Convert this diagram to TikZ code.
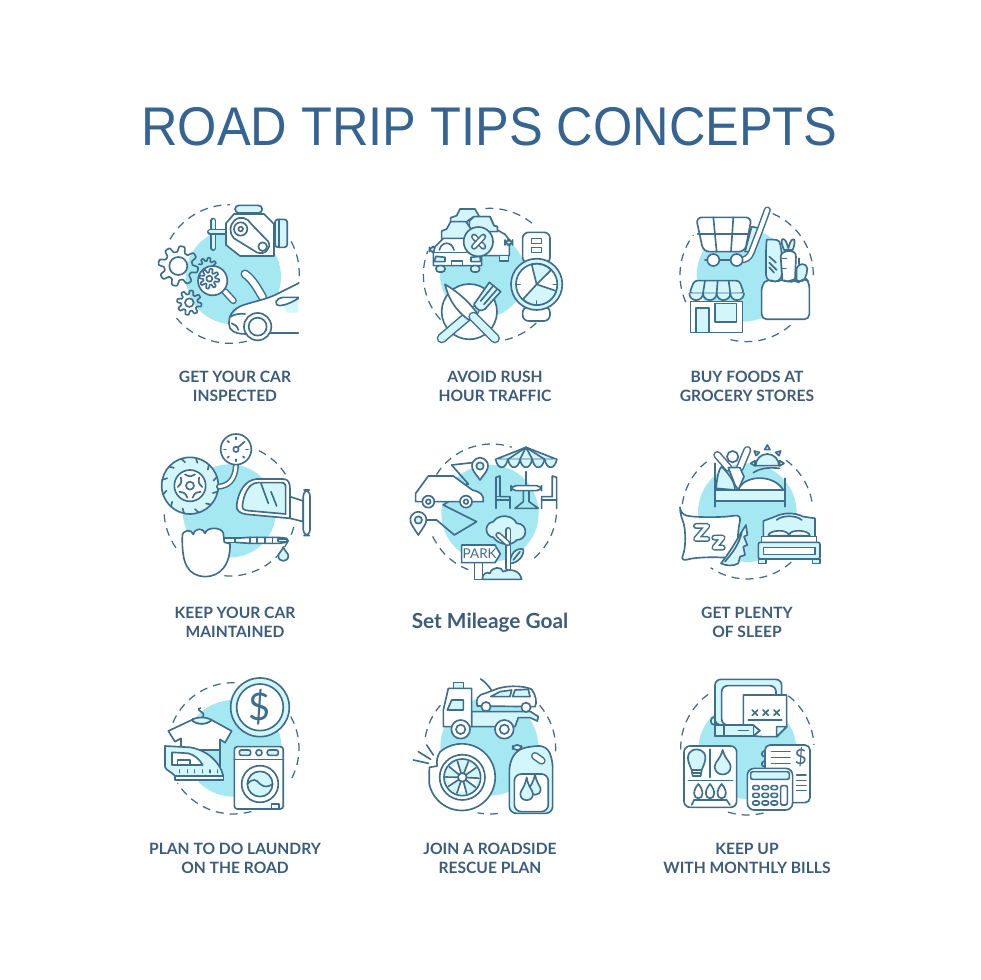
\documentclass[tikz,border=0pt]{standalone}
\usepackage{fontspec}
\setmainfont{Lato}
\newfontfamily\ttlfont[FakeStretch=0.927]{Liberation Sans}
\definecolor{dk}{HTML}{3F6D8C}
\definecolor{lt}{HTML}{D3F6FB}
\definecolor{bl}{HTML}{A6E8F2}
\definecolor{ttlc}{HTML}{366492}
\definecolor{lblc}{HTML}{3C5C7C}
\tikzset{
 zoomat/.style 2 args={xshift=#1pt,yshift=-#2pt,x=.3333pt,y=-.3333pt},
 ic/.style={draw=dk,line width=1.65pt,line join=round,line cap=round},
 icw/.style={ic,fill=white},
 icl/.style={ic,fill=lt},
 dsh/.style={draw=dk,line width=1.25pt,dash pattern=on 8pt off 6pt},
 tube/.style 2 args={draw=dk,line width=1.5pt,double=#1,double distance=#2,line cap=round,line join=round},
 lbl/.style={font=\bfseries\fontsize{15.6}{18}\selectfont,text=lblc,inner sep=0pt,anchor=center},
 glyph/.style={text=dk,inner sep=0pt}
}
\newcommand\dsharc[5]{\draw[dsh] ({#1+#3*cos(#4)},{#2+#3*sin(#4)}) arc[start angle=#4,end angle=#5,radius=#3];}
\newcommand\blobat[3]{\fill[bl] (#1,#2) circle[radius=#3];}
\newcommand\gearat[7]{\draw[ic,fill=#7] plot[variable=\t,domain=0:360,samples=145] ({#1+(#3+#4*tanh(2.5*sin(#5*\t)))*cos(\t)},{#2+(#3+#4*tanh(2.5*sin(#5*\t)))*sin(\t)}) -- cycle;
 \draw[ic] (#1,#2) circle[radius=#6];}
\newcommand\pinat[5]{\draw[icw] ({#1-#3*.72},{#2+#3*.7}) .. controls ({#1-#3*1.35},{#2-#3*.3}) and ({#1-#3*.6},{#2-#3}) .. (#1,{#2-#3}) .. controls ({#1+#3*.6},{#2-#3}) and ({#1+#3*1.35},{#2-#3*.3}) .. ({#1+#3*.72},{#2+#3*.7}) -- (#1,#4) -- cycle;
 \draw[icl] (#1,#2) circle[radius=#5];}
\newcommand\dropat[4]{\draw[icl] (#1,#2) .. controls ({#1-#4*.3},{#3-#4*.9}) and ({#1-#4},{#3-#4*.6}) .. ({#1-#4},#3) .. controls ({#1-#4},{#3+#4*1.3}) and ({#1+#4},{#3+#4*1.3}) .. ({#1+#4},#3) .. controls ({#1+#4},{#3-#4*.6}) and ({#1+#4*.3},{#3-#4*.9}) .. (#1,#2) -- cycle;}
\begin{document}
\begin{tikzpicture}[x=1pt,y=-1pt]
\useasboundingbox (0,0) rectangle (980,980);
\fill[white] (0,0) rectangle (980,980);
\node[font=\ttlfont\fontsize{54.5}{60}\selectfont,text=ttlc,inner sep=0pt] (title) at (489.5,126.5) {ROAD TRIP TIPS CONCEPTS};
\node[lbl] (a1) at (235,377) {GET YOUR CAR};
\node[lbl] (a2) at (235,396) {INSPECTED};
\node[lbl] (b1) at (495,377) {AVOID RUSH};
\node[lbl] (b2) at (495,396) {HOUR TRAFFIC};
\node[lbl] (c1) at (747,377) {BUY FOODS AT};
\node[lbl] (c2) at (747,396) {GROCERY STORES};
\node[lbl] (d1) at (235,613) {KEEP YOUR CAR};
\node[lbl] (d2) at (235,632) {MAINTAINED};
\node[lbl,font=\bfseries\fontsize{20.8}{24}\selectfont] (e1) at (490,623) {Set Mileage Goal};
\node[lbl] (f1) at (747,613) {GET PLENTY};
\node[lbl] (f2) at (747,632) {OF SLEEP};
\node[lbl] (g1) at (235,849) {PLAN TO DO LAUNDRY};
\node[lbl] (g2) at (235,868) {ON THE ROAD};
\node[lbl] (h1) at (490,849) {JOIN A ROADSIDE};
\node[lbl] (h2) at (490,868) {RESCUE PLAN};
\node[lbl] (i1) at (747,849) {KEEP UP};
\node[lbl] (i2) at (747,868) {WITH MONTHLY BILLS};

% ---------- ICON 1
\begin{scope}[zoomat={140}{190}]
\blobat{280}{260}{143}
\dsharc{270}{252}{208}{210}{270}
\dsharc{270}{252}{208}{332}{368}
\dsharc{270}{252}{208}{76}{144}
\draw[tube={lt}{3pt}] (220,92)--(220,174);
\draw[tube={lt}{3pt}] (210,126)--(256,126);
\draw[icl,rounded corners=4pt] (285,46) rectangle (367,69);
\draw[icw] (258,100)--(282,72)--(372,72)--(402,102)--(402,198)--(300,198)--(258,165)--cycle;
\draw[icw] (283,92) .. controls (300,75) and (325,85) .. (332,100) -- (385,155) .. controls (395,175) and (375,197) .. (350,187) -- (282,145) .. controls (265,125) and (270,105) .. (283,92) -- cycle;
\draw[ic] (302,117) circle[radius=20];
\draw[ic] (302,117) circle[radius=7];
\draw[ic] (368,170) circle[radius=13];
\draw[icl,rounded corners=3pt] (405,88) rectangle (442,172);
\draw[ic] (418,88)--(418,172);
\gearat{115}{228}{51}{9}{8}{27}{none}
\gearat{148}{338}{31}{6}{8}{13}{none}
\draw[ic] plot[variable=\t,domain=200:350,samples=61] ({202+(24+5*tanh(2.5*sin(8*\t)))*cos(\t)},{232+(24+5*tanh(2.5*sin(8*\t)))*sin(\t)});
\draw[tube={white}{4pt}] (255,305)--(280,332);
\draw[icw] (218,272) circle[radius=44];
\gearat{208}{266}{24}{6}{8}{9}{none}
\draw[tube={white}{6pt}] (315,252) .. controls (340,270) and (355,300) .. (368,322);
\fill[white] (268,430) -- (268,390) -- (300,350) -- (405,315) -- (475,280) -- (475,430) -- cycle;
\fill[lt] (430,345) -- (475,325) -- (475,368) -- (440,368) -- cycle;
\draw[ic] (475,280) -- (405,315) .. controls (360,335) and (310,340) .. (290,355) .. controls (268,370) and (262,395) .. (270,415) .. controls (280,430) and (300,432) .. (318,432);
\draw[ic] (475,322) -- (430,322) .. controls (405,325) and (400,345) .. (420,347) .. controls (440,345) and (460,335) .. (475,325);
\draw[ic] (392,430)--(475,430);
\draw[ic] (272,380) .. controls (285,372) and (300,370) .. (315,372);
\draw[ic] (275,400) .. controls (285,402) and (292,410) .. (295,420);
\draw[icw] (353,410) circle[radius=41];
\draw[ic] (353,410) circle[radius=27];
\end{scope}

% ---------- ICON 2
\begin{scope}[zoomat={410}{195}]
\blobat{218}{240}{128}
\dsharc{240}{240}{200}{266}{313}
\dsharc{240}{240}{200}{138}{201}
\dsharc{240}{240}{200}{46}{78}
\draw[icl] (122,68)--(140,62)--(150,42)--(195,42)--(208,65)--(230,68)--(230,85)--(122,85)--cycle;
\draw[icw] (172,78)--(192,65)--(240,65)--(252,92)--(262,95)--(262,105)--(285,118)--(298,135)--(298,182)--(175,182)--cycle;
\draw[icl] (178,78)--(192,65)--(240,65)--(252,92)--(262,95)--(262,110)--(178,110)--cycle;
\draw[icl] (268,182) rectangle (296,198);
\draw[icl,rounded corners=5pt] (285,135) rectangle (308,150);
\draw[icl] (95,108)--(110,102)--(122,80)--(168,80)--(185,105)--(195,110)--(195,135)--(95,135)--cycle;
\draw[icl,rounded corners=5pt] (58,155) rectangle (82,172);
\draw[icw] (75,155)--(100,130)--(170,130)--(205,155)--(215,175)--(215,212)--(70,212)--(70,175)--cycle;
\draw[ic] (88,165) .. controls (95,138) and (125,138) .. (132,165);
\draw[ic] (72,172)--(212,172);
\draw[icl] (78,184)--(105,187)--(105,200)--(72,200)--cycle;
\draw[icl] (210,184)--(183,187)--(183,200)--(212,200)--cycle;
\draw[ic] (125,212)--(125,198)--(158,198)--(158,212);
\draw[icl,rounded corners=3pt] (78,212) rectangle (105,231);
\draw[icl,rounded corners=3pt] (182,212) rectangle (209,231);
\draw[icl] (205,140) circle[radius=44];
\draw[tube={white}{3pt}] (192,125)--(220,155);
\draw[tube={white}{3pt}] (220,125)--(192,155);
\draw[icw,rounded corners=6pt] (338,112) rectangle (420,205);
\draw[ic] (365,130) rectangle (395,145);
\draw[ic] (365,158) rectangle (395,172);
\draw[icw,rounded corners=6pt] (338,335) rectangle (420,378);
\draw[icl] (380,268) circle[radius=77];
\draw[icw] (380,268) circle[radius=62];
\draw[icl] (380,268) -- (365,208) arc[start angle=256,end angle=316,radius=61] -- cycle;
\draw[icl] (380,268) -- (439,288) arc[start angle=18,end angle=134,radius=61] -- cycle;
\foreach \a in {0,180,90} {\draw[ic] ({380+50*cos(\a)},{268+50*sin(\a)}) -- ({380+61*cos(\a)},{268+61*sin(\a)});}
\draw[icw] (178,350) circle[radius=83];
\draw[tube={lt}{7pt}] (195,345)--(95,430);
\draw[icl] (238,262) -- (272,290) -- (225,342) .. controls (212,352) and (200,345) .. (192,328) -- cycle;
\draw[ic] (250,272)--(212,318); \draw[ic] (262,282)--(222,328);
\draw[icw] (105,268) .. controls (150,295) and (175,320) .. (200,352) -- (178,376) .. controls (135,345) and (115,310) .. (105,268) -- cycle;
\draw[tube={lt}{7pt}] (190,365)--(255,430);
\end{scope}

% ---------- ICON 3
\begin{scope}[zoomat={650}{190}]
\blobat{280}{255}{140}
\dsharc{290}{255}{200}{293}{364}
\dsharc{290}{255}{200}{49}{109}
\dsharc{290}{255}{200}{156}{217}
\draw[icl] (305,110)--(330,115)--(298,185)--(285,185)--cycle;
\draw[tube={white}{4pt}] (352,60)--(330,120)--(305,185) .. controls (298,205) and (285,210) .. (270,210);
\draw[ic] (165,210)--(270,210);
\draw[icw,rounded corners=6pt] (138,82) -- (305,82) -- (285,185) -- (160,185) -- cycle;
\draw[ic] (190,82)--(200,185); \draw[ic] (250,82)--(243,185); \draw[ic] (143,132)--(296,132);
\draw[icw] (190,210) circle[radius=18];
\draw[icw] (260,210) circle[radius=18];
\draw[icl,rounded corners=7pt] (348,275) -- (348,170) .. controls (350,150) and (385,145) .. (395,175) -- (395,275) -- cycle;
\draw[ic] (358,200)--(378,218); \draw[ic] (358,218)--(380,240); \draw[ic] (358,232)--(372,248);
\draw[icl] (402,180) .. controls (390,150) and (395,145) .. (402,148) .. controls (408,150) and (412,165) .. (415,175) .. controls (418,165) and (422,150) .. (428,148) .. controls (436,145) and (436,160) .. (428,180) -- cycle;
\draw[icw] (392,200) .. controls (392,180) and (440,175) .. (438,200) -- (435,268) -- (398,278) -- cycle;
\draw[ic] (392,205)--(410,205); \draw[ic] (394,235)--(408,235);
\draw[icl] (440,235) .. controls (445,218) and (470,218) .. (472,235) .. controls (472,255) and (460,280) .. (450,280) -- (440,270) -- cycle;
\draw[ic] (447,222)--(447,205);
\draw[icw,rounded corners=5pt] (335,285) -- (335,388) -- (478,388) -- (478,278) -- (465,262) -- (450,280) -- (435,268) -- (415,280) -- (395,265) -- (375,280) -- (355,265) -- cycle;
\draw[icw] (122,335) rectangle (278,428);
\draw[icl] (138,354) rectangle (177,428);
\draw[icl] (195,340) rectangle (260,397);
\draw[icl,rounded corners=3pt] (133,272) -- (268,272) -- (282,310) -- (118,310) -- cycle;
\foreach \x in {118,159,200,241} {\draw[icl] (\x,310) arc[start angle=180,end angle=0,radius=20.5];}
\draw[ic] (165,272)--(159,310); \draw[ic] (203,272)--(200,310); \draw[ic] (236,272)--(241,310);
\end{scope}

% ---------- ICON 4
\begin{scope}[zoomat={140}{425}]
\blobat{268}{258}{140}
\dsharc{270}{255}{198}{296}{329}
\dsharc{270}{255}{198}{145}{180}
\dsharc{270}{255}{198}{15}{96}
\draw[icl] (150,182) circle[radius=85];
\foreach \a in {0,30,...,330} {\draw[ic] ({150+85*cos(\a+12)},{182+85*sin(\a+12)}) -- ({150+72*cos(\a+18)},{182+72*sin(\a+18)});}
\draw[icw] (150,182) circle[radius=47];
\draw[ic] (150,182) circle[radius=12];
\foreach \a in {270,342,54,126,198} {\draw[icl] ({150+37*cos(\a-24)},{182+37*sin(\a-24)}) .. controls ({150+26*cos(\a)},{182+26*sin(\a)}) .. ({150+37*cos(\a+24)},{182+37*sin(\a+24)});}
\draw[tube={white}{3pt}] (288,122) .. controls (285,165) and (265,182) .. (237,185);
\draw[icw] (288,73) circle[radius=46];
\draw[ic] (288,73) circle[radius=8];
\draw[ic] (293,68)--(314,50);
\foreach \a in {180,225,270,0,45,90,135} {\draw[ic] ({288+30*cos(\a)},{73+30*sin(\a)}) -- ({288+36*cos(\a)},{73+36*sin(\a)});}
\draw[icw] (450,215)--(490,228)--(490,290)--(450,280)--cycle;
\draw[icw,rounded corners=6pt] (490,195) rectangle (510,332);
\draw[icw] (290,240) .. controls (295,200) and (315,165) .. (350,162) -- (430,162) .. controls (445,162) and (450,175) .. (450,190) -- (450,280) -- (320,268) .. controls (300,265) and (288,258) .. (290,240) -- cycle;
\draw[icl] (307,245) .. controls (310,210) and (325,175) .. (352,173) -- (425,173) .. controls (435,173) and (437,180) .. (437,190) -- (437,267) -- (325,257) .. controls (312,255) and (305,252) .. (307,245) -- cycle;
\draw[ic] (363,175)--(385,235); \draw[ic] (393,200)--(410,243);
\draw[tube={white}{3pt}] (255,346)--(300,346);
\draw[icw] (285,340) -- (330,337) -- (415,337) -- (440,340) .. controls (445,345) and (445,350) .. (440,352) -- (415,355) -- (330,355) -- (285,352) -- cycle;
\draw[ic] (330,337)--(330,355); \draw[ic] (352,337)--(352,355); \draw[ic] (375,337)--(375,355); \draw[ic] (398,337)--(398,355);
\draw[icl] (415,342) rectangle (440,350);
\dropat{430}{366}{393}{15}
\draw[icw] (127,335) .. controls (125,315) and (155,310) .. (160,328) .. controls (165,308) and (190,308) .. (195,325) .. controls (200,305) and (245,305) .. (250,325) -- (253,352) -- (270,356) .. controls (272,420) and (240,455) .. (195,455) .. controls (145,452) and (125,420) .. (127,335) -- cycle;
\end{scope}

% ---------- ICON 5
\begin{scope}[zoomat={395}{440}]
\blobat{285}{220}{146}
\dsharc{290}{207}{195}{212}{288}
\dsharc{290}{207}{195}{5}{52}
\dsharc{290}{207}{195}{111}{156}
\draw[ic] (170,75)--(232,68); \draw[ic] (170,75)--(220,132)--(205,135);
\draw[ic] (145,195)--(245,245)--(178,285)--(125,240)--(92,240);
\draw[ic] (145,195)--(160,185);
\pinat{255}{78}{25}{120}{11}
\pinat{70}{240}{25}{285}{11}
\draw[icw] (62,160) -- (100,108) -- (175,108) -- (232,150) .. controls (255,155) and (268,165) .. (265,185) -- (62,185) -- cycle;
\draw[icw] (100,185) circle[radius=18]; \draw[ic] (100,185) circle[radius=7];
\draw[icw] (213,185) circle[radius=18]; \draw[ic] (213,185) circle[radius=7];
\draw[ic] (393,95)--(393,138);
\draw[icl] (393,22) -- (302,58) -- (485,58) -- cycle;
\foreach \x in {302,339,375,412,449} {\draw[icl] (\x,58) .. controls ({\x+6},90) and ({\x+30},90) .. ({\x+36.5},58);}
\draw[ic] (393,22)--(339,58); \draw[ic] (393,22)--(375,58); \draw[ic] (393,22)--(412,58); \draw[ic] (393,22)--(449,58);
\draw[icw,rounded corners=5pt] (348,137) rectangle (440,152);
\draw[ic] (385,152) -- (385,185) -- (360,205) -- (430,205) -- (402,185) -- (402,152);
\draw[ic] (303,205)--(303,112)--(315,108)--(315,170)--(345,170)--(345,205);
\draw[ic] (303,170)--(315,170); \draw[ic] (303,180)--(345,180);
\draw[ic] (485,205)--(485,112)--(472,108)--(472,170)--(440,170)--(440,205);
\draw[ic] (440,180)--(485,180);
\draw[icl] (295,292) .. controls (270,290) and (265,250) .. (295,245) .. controls (310,220) and (355,225) .. (365,250) .. controls (400,250) and (400,300) .. (365,300) .. controls (350,320) and (310,315) .. (295,292) -- cycle;
\draw[icl] (345,370) .. controls (345,340) and (365,322) .. (385,328) .. controls (388,345) and (370,370) .. (345,370) -- cycle;
\draw[ic] (355,360)--(375,335);
\draw[tube={white}{3pt}] (340,270)--(340,385);
\draw[tube={white}{3pt}] (310,285)--(338,310);
\draw[icw] (238,368) rectangle (262,418);
\draw[icl] (262,418) .. controls (262,400) and (275,395) .. (285,400) .. controls (290,380) and (320,378) .. (325,395) .. controls (345,385) and (375,390) .. (380,418) -- cycle;
\draw[icw] (200,315) -- (300,315) -- (316,342) -- (300,368) -- (200,368) -- cycle;
\node[font=\fontsize{13.5}{14}\selectfont,text=dk,inner sep=0pt] (park) at (254,342) {PARK};
\end{scope}

% ---------- ICON 6
\begin{scope}[zoomat={660}{435}]
\blobat{262}{233}{148}
\dsharc{262}{235}{197}{188}{233}
\dsharc{262}{235}{197}{306}{353}
\dsharc{262}{235}{197}{48}{124}
\draw[icl] (322,92) ++(-35,0) arc[start angle=180,end angle=360,radius=35] -- cycle;
\draw[ic] (280,113) .. controls (300,100) and (325,96) .. (358,100);
\draw[icl] (322,30)--(314,44)--(330,44)--cycle;
\draw[icl] (272,85)--(285,77)--(285,93)--cycle;
\draw[icl] (372,85)--(359,77)--(359,93)--cycle;
\draw[icl] (283,48)--(298,52)--(288,62)--cycle;
\draw[icl] (362,48)--(347,52)--(357,62)--cycle;
\draw[icl] (168,160) .. controls (172,120) and (178,100) .. (185,95) .. controls (205,115) and (225,140) .. (225,165) -- cycle;
\draw[icl] (165,165) rectangle (375,198);
\draw[ic] (165,198)--(165,215); \draw[ic] (375,198)--(375,215); \draw[ic] (165,85)--(165,165); \draw[ic] (375,130)--(375,165);
\draw[tube={white}{5pt}] (172,60)--(205,98);
\draw[tube={white}{5pt}] (262,45)--(240,98);
\draw[icw] (205,98)--(240,98)--(252,125)--(235,165)--(225,150)--cycle;
\draw[icw] (218,65) circle[radius=17];
\draw[icw] (235,165) .. controls (250,120) and (340,115) .. (370,165) -- cycle;
\draw[icw,rounded corners=7pt] (60,238) .. controls (110,248) and (190,248) .. (245,238) .. controls (232,290) and (232,340) .. (240,375) .. controls (190,365) and (110,365) .. (60,380) .. controls (78,340) and (78,280) .. (60,238) -- cycle;
\draw[tube={white}{3pt}] (108,273)--(142,273)--(108,312)--(142,312);
\draw[tube={white}{3pt}] (163,308)--(188,308)--(163,338)--(188,338);
\draw[icl] (183,385) .. controls (215,345) and (235,305) .. (258,270) -- (262,300) -- (252,305) -- (262,330) -- (250,335) -- (255,360) -- (240,365) -- (235,385) .. controls (220,395) and (195,392) .. (183,385) -- cycle;
\draw[ic] (195,380) .. controls (220,350) and (235,330) .. (245,295);
\draw[icl] (310,320) -- (310,258) -- (345,245) .. controls (370,232) and (405,232) .. (430,245) -- (465,250) -- (465,320) -- cycle;
\draw[ic] (350,255) .. controls (365,240) and (410,240) .. (425,255);
\draw[icw] (325,302) .. controls (325,285) and (385,280) .. (387,302) -- cycle;
\draw[icw] (387,302) .. controls (387,280) and (450,285) .. (450,302) -- cycle;
\draw[icw] (305,304) rectangle (470,322);
\draw[icl,rounded corners=2pt] (295,322) rectangle (480,372);
\draw[icw] (310,338) rectangle (465,358);
\draw[icl] (295,372) rectangle (318,386);
\draw[icl] (458,372) rectangle (480,386);
\end{scope}

% ---------- ICON 7
\begin{scope}[zoomat={140}{670}]
\blobat{280}{235}{145}
\dsharc{280}{235}{197}{203}{276}
\dsharc{280}{235}{197}{331}{390}
\dsharc{280}{235}{197}{74}{148}
\draw[icl] (360,112) circle[radius=88];
\draw[icw] (360,112) circle[radius=70];
\node[glyph,font=\fontsize{38}{40}\selectfont] (coin) at (360,112) {\$};
\draw[ic] (158,147) .. controls (190,152) and (200,135) .. (183,125) .. controls (172,118) and (175,114) .. (182,114);
\draw[icw] (155,150) -- (85,183) -- (105,215) -- (123,205) -- (123,240) -- (240,240) -- (240,208) -- (255,218) -- (275,183) -- (215,150) .. controls (200,165) and (170,165) .. (155,150) -- cycle;
\draw[icl] (155,150) .. controls (170,140) and (200,140) .. (215,150) .. controls (200,165) and (170,165) .. (155,150) -- cycle;
\draw[ic] (240,240)--(240,310);
\draw[icl] (75,228) -- (150,232) .. controls (200,240) and (240,275) .. (250,318) -- (105,318) .. controls (95,305) and (75,300) .. (75,290) -- cycle;
\draw[icw] (96,247) -- (145,250) .. controls (165,255) and (180,270) .. (188,285) -- (96,285) -- cycle;
\draw[ic] (113,285)--(113,270)--(150,270)--(150,285);
\foreach \x in {118,142,163,187,210,233} {\draw[ic] (\x,300)--(\x,308);}
\draw[icw] (105,318) rectangle (250,330);
\draw[icw,rounded corners=3pt] (283,230) rectangle (430,417);
\draw[ic] (283,268)--(430,268);
\draw[ic] (357,248) circle[radius=9];
\draw[icl,rounded corners=2pt] (298,240) rectangle (332,256);
\draw[icl,rounded corners=2pt] (382,240) rectangle (415,256);
\draw[icw] (360,342) circle[radius=55];
\draw[icl] (360,342) circle[radius=38];
\draw[ic] (322,342) .. controls (340,322) and (350,330) .. (360,342) .. controls (372,352) and (385,352) .. (398,342);
\draw[ic] (395,417)--(395,402)--(418,402)--(418,417);
\end{scope}

% ---------- ICON 8
\begin{scope}[zoomat={400}{670}]
\blobat{268}{230}{147}
\dsharc{270}{235}{197}{190}{221}
\dsharc{270}{235}{197}{319}{364}
\dsharc{270}{235}{197}{83}{101}
\draw[ic] (242,27) .. controls (255,35) and (268,50) .. (275,62);
\draw[icl] (160,55)--(160,38)--(190,38)--(190,55)--cycle;
\draw[icl] (215,125)--(392,125)--(415,140)--(412,153)--(390,143)--(355,143)--(345,170)--(215,170)--cycle;
\draw[icw] (145,55)--(215,55)--(215,170)--(130,170)--(130,120)--cycle;
\draw[icl] (155,90)--(190,90)--(190,120)--(142,120)--cycle;
\draw[icw] (182,178) circle[radius=28];
\draw[ic] (182,178) circle[radius=14];
\draw[icw] (313,178) circle[radius=28];
\draw[ic] (313,178) circle[radius=14];
\draw[icw] (232,108) .. controls (225,90) and (235,72) .. (255,70) -- (295,55) .. controls (330,45) and (375,48) .. (395,58) .. controls (408,75) and (412,100) .. (405,110) -- cycle;
\draw[icl] (272,80)--(300,65)--(335,60)--(330,80)--cycle;
\draw[icl] (345,60)--(385,58)--(390,80)--(338,80)--cycle;
\draw[icw] (258,110) circle[radius=14];
\draw[icw] (378,112) circle[radius=14];
\draw[ic] (40,270)--(85,280); \draw[ic] (55,245)--(92,268); \draw[ic] (80,225)--(100,255);
\draw[icw] (120,246) arc[start angle=229,end angle=528,radius=100] -- (88,292) -- (112,288) .. controls (108,275) and (112,258) .. (120,246) -- cycle;
\draw[icw] (187,322) circle[radius=68];
\draw[icl] (187,322) circle[radius=55];
\foreach \a in {20,92,164,236,308} {\fill[white] (187,322) -- ({187+50*cos(\a-17)},{322+50*sin(\a-17)}) .. controls ({187+40*cos(\a)},{322+40*sin(\a)}) .. ({187+50*cos(\a+17)},{322+50*sin(\a+17)}) -- cycle;
\draw[ic] (187,322) -- ({187+50*cos(\a-17)},{322+50*sin(\a-17)});
\draw[ic] (187,322) -- ({187+50*cos(\a+17)},{322+50*sin(\a+17)});}
\draw[icw] (187,322) circle[radius=13];
\draw[icl,rounded corners=4pt] (338,225) rectangle (365,240);
\draw[icl,rounded corners=7pt] (328,430) -- (328,280) -- (350,240) -- (395,228) -- (440,228) -- (458,270) -- (458,430) -- cycle;
\draw[tube={white}{5pt}] (405,258)--(425,272);
\draw[icw,rounded corners=7pt] (343,425) -- (343,312) -- (445,312) -- (445,425) -- cycle;
\dropat{405}{312}{358}{17}
\dropat{380}{322}{372}{19}
\end{scope}

% ---------- ICON 9
\begin{scope}[zoomat={670}{670}]
\blobat{232}{240}{147}
\dsharc{232}{235}{200}{179}{236}
\dsharc{232}{235}{200}{308}{357}
\dsharc{232}{235}{200}{76}{111}
\draw[icl,rounded corners=6pt] (135,165) -- (135,28) -- (335,28) -- (335,165) -- cycle;
\draw[icw,rounded corners=6pt] (155,165) -- (155,47) -- (318,47) -- (318,165) -- cycle;
\draw[icl] (135,140) .. controls (118,142) and (118,165) .. (135,165) -- (250,165) -- (270,182) -- (250,198) -- (135,198) -- cycle;
\draw[ic] (162,165)--(162,198); \draw[ic] (205,182)--(235,182); \draw[ic] (250,165)--(250,198);
\draw[ic] (135,165)--(135,198);
\draw[icw] (220,165)--(220,75)--(350,75)--(350,170)--(320,200)--(280,200)--(250,198)--(270,182)--(250,165)--cycle;
\draw[icl] (320,200)--(320,170)--(350,170)--cycle;
\foreach \x in {255,287,320} {\draw[ic] ({\x-8},120)--({\x+8},136); \draw[ic] ({\x+8},120)--({\x-8},136);}
\draw[ic] (235,150)--(335,150);
\draw[icw,rounded corners=6pt] (42,228) rectangle (200,412);
\draw[ic] (120,238)--(120,322); \draw[ic] (55,332)--(188,332);
\draw[icl] (58,283) .. controls (45,250) and (65,238) .. (80,238) .. controls (95,238) and (115,250) .. (102,283) -- (95,300) -- (65,300) -- cycle;
\draw[ic] (65,300)--(68,318)--(92,318)--(95,300); \draw[ic] (66,309)--(94,309);
\dropat{158}{240}{290}{24}
\foreach \x in {85,120,155} {\draw[ic] (\x,342) .. controls ({\x-18},362) and ({\x-15},385) .. (\x,385) .. controls ({\x+15},385) and ({\x+18},362) .. (\x,342) -- cycle;}
\draw[ic] (65,405)--(72,390)--(170,390)--(180,405);
\draw[icw,rounded corners=5pt] (285,225) rectangle (420,398);
\draw[ic] (285,242) .. controls (272,245) and (272,260) .. (285,260);
\draw[ic] (285,272) .. controls (272,275) and (272,290) .. (285,290);
\draw[ic] (305,245)--(360,245); \draw[ic] (305,262)--(360,262); \draw[ic] (305,280)--(360,280);
\node[glyph,font=\fontsize{21}{22}\selectfont] (bill) at (392,262) {\$};
\foreach \y in {315,331,347,362} {\draw[ic] (380,\y)--(408,\y);}
\draw[icw,rounded corners=7pt] (232,295) rectangle (368,420);
\draw[icl,rounded corners=2pt] (242,305) rectangle (358,328);
\foreach \y in {353,376,399} {\foreach \x in {258,286,313} {\draw[ic,rounded corners=2pt] ({\x-10},{\y-6}) rectangle ({\x+10},{\y+6});}}
\draw[ic,rounded corners=2pt] (332,347) rectangle (352,405);
\end{scope}
\end{tikzpicture}
\end{document}
